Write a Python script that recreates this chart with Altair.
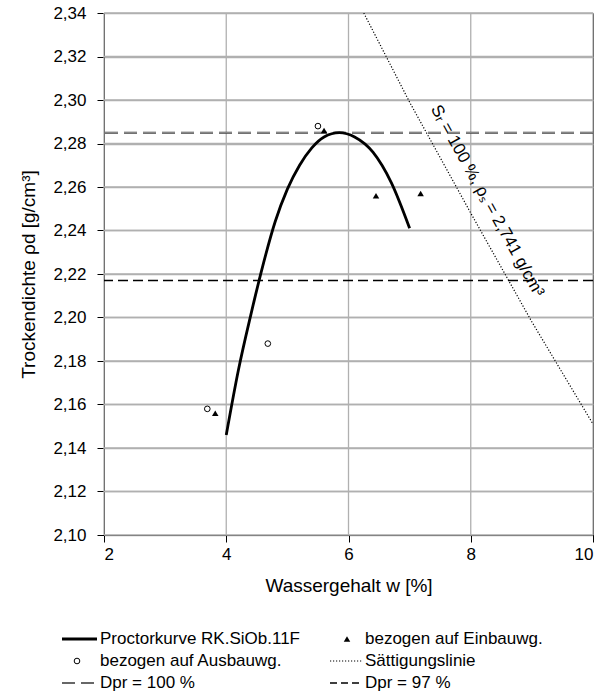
import altair as alt
import pandas as pd

# ---------------- data ----------------
proctor_w = [4.0, 4.2, 4.4, 4.6, 4.8, 5.0, 5.2, 5.4, 5.6, 5.85, 6.1, 6.4, 6.7, 7.0]
proctor_rho = [2.146, 2.176, 2.201, 2.224, 2.244, 2.259, 2.270, 2.278, 2.283, 2.285,
               2.283, 2.276, 2.262, 2.241]

ausbau_w = [3.69, 4.68, 5.50]
ausbau_rho = [2.158, 2.188, 2.288]

einbau_w = [3.82, 5.60, 6.45, 7.18]
einbau_rho = [2.156, 2.286, 2.256, 2.257]

saett_w = [6.25, 7.0, 8.0, 9.0, 10.0]
saett_rho = [2.340, 2.299, 2.248, 2.198, 2.151]

dpr100 = [2.285]
dpr97 = [2.217]

x_ticks = [2, 4, 6, 8, 10]
y_ticks = [2.10, 2.12, 2.14, 2.16, 2.18, 2.20, 2.22, 2.24, 2.26, 2.28, 2.30, 2.32, 2.34]

sat_label = ["Sᵣ = 100 %, ρₛ = 2,741 g/cm³"]
sat_label_w = [8.27]
sat_label_rho = [2.2536]

legend_labels = ["Proctorkurve RK.SiOb.11F", "bezogen auf Einbauwg.",
                 "bezogen auf Ausbauwg.", "Sättigungslinie",
                 "Dpr = 100 %", "Dpr = 97 %"]
legend_kind = ["proctor", "einbau", "ausbau", "saett", "dpr100", "dpr97"]
legend_col = [0, 1, 0, 1, 0, 1]
legend_row = [0, 0, 1, 1, 2, 2]

FONT = "Liberation Sans"
W, H = 489, 522

# ---------------- tables ----------------
proctor_df = pd.DataFrame({"w": proctor_w, "rho": proctor_rho})
ausbau_df = pd.DataFrame({"w": ausbau_w, "rho": ausbau_rho})
einbau_df = pd.DataFrame({"w": einbau_w, "rho": einbau_rho})
saett_df = pd.DataFrame({"w": saett_w, "rho": saett_rho})
d100_df = pd.DataFrame({"rho": dpr100})
d97_df = pd.DataFrame({"rho": dpr97})
lab_df = pd.DataFrame({"w": sat_label_w, "rho": sat_label_rho, "t": sat_label})
leg_df = pd.DataFrame({"label": legend_labels, "kind": legend_kind,
                       "col": legend_col, "row": legend_row})
xgrid_df = pd.DataFrame({"w": x_ticks})
ygrid_df = pd.DataFrame({"g": y_ticks})

xscale = alt.Scale(domain=[2, 10], nice=False)
yscale = alt.Scale(domain=[2.10, 2.34], nice=False)

xaxis = alt.Axis(values=x_ticks, title="Wassergehalt w [%]", tickSize=7, grid=False,
                 labelPadding=4, titlePadding=14, format="d")
yaxis = alt.Axis(values=y_ticks, title="Trockendichte ρd [g/cm³]", tickSize=7, grid=True,
                 gridColor="#b0b0b0", gridWidth=1.3, gridOpacity=1,
                 labelPadding=11, titlePadding=14,
                 labelExpr="replace(format(datum.value, '.2f'), '.', ',')")


def X(field="w"):
    return alt.X(f"{field}:Q", scale=xscale, axis=xaxis)


def Y(field="rho"):
    return alt.Y(f"{field}:Q", scale=yscale, axis=yaxis)


GRID = dict(color="#b0b0b0", strokeWidth=1.3)
D100_DARK = dict(color="#3c3c3c", strokeWidth=2.0, strokeDash=[13, 6])
D100_LIGHT = dict(color="#cfcfcf", strokeWidth=0.6, strokeDash=[13, 6])

xgrid = alt.Chart(xgrid_df).mark_rule(**GRID).encode(x=X())
ygrid = alt.Chart(ygrid_df).mark_rule(**GRID).encode(
    y=Y("g"), x=alt.value(0), x2=alt.value(W))
d100_dark = alt.Chart(d100_df).mark_rule(**D100_DARK).encode(y=Y())
d100_light = alt.Chart(d100_df).mark_rule(**D100_LIGHT).encode(y=Y())
d97 = alt.Chart(d97_df).mark_rule(color="black", strokeWidth=1.5,
                                  strokeDash=[10, 5]).encode(y=Y())
saett = alt.Chart(saett_df).mark_line(color="black", strokeWidth=1.2,
                                      strokeDash=[1.2, 1.8], clip=True).encode(x=X(), y=Y())
proctor = alt.Chart(proctor_df).mark_line(color="black", strokeWidth=2.8,
                                          interpolate="monotone").encode(x=X(), y=Y())
ausbau = alt.Chart(ausbau_df).mark_point(shape="circle", filled=False, color="black",
                                         strokeWidth=1, size=32, opacity=1).encode(x=X(), y=Y())
einbau = alt.Chart(einbau_df).mark_point(shape="triangle-up", filled=True, color="black",
                                         size=42, opacity=1).encode(x=X(), y=Y())
label = alt.Chart(lab_df).mark_text(angle=61, font=FONT, fontSize=17, color="black",
                                    align="center", baseline="middle").encode(
    x=X(), y=Y(), text="t:N")

main = alt.layer(ygrid, xgrid, d100_dark, d100_light, d97, saett, proctor, ausbau, einbau,
                 label).properties(
    width=W, height=H, view=alt.ViewBackground(stroke="black", strokeWidth=1))

# ---------------- legend panel ----------------
LH = 66
lx = alt.Scale(domain=[0, W], nice=False, zero=False)
ly = alt.Scale(domain=[-0.5, 2.5], nice=False, zero=False, reverse=True)

leg = alt.Chart(leg_df).transform_calculate(
    tx="datum.col == 0 ? -4 : 261",
    x0="datum.col == 0 ? -42 : 226",
    x1="datum.col == 0 ? -7 : 258",
    xc="datum.col == 0 ? -27 : 243",
)


def leg_rule(kind, **kw):
    return leg.transform_filter(f"datum.kind == '{kind}'").mark_rule(**kw).encode(
        x=alt.X("x0:Q", scale=lx, axis=None),
        x2="x1:Q",
        y=alt.Y("row:Q", scale=ly, axis=None))


leg_text = leg.mark_text(align="left", baseline="middle", font=FONT, fontSize=17,
                         color="black").encode(
    x=alt.X("tx:Q", scale=lx, axis=None),
    y=alt.Y("row:Q", scale=ly, axis=None),
    text="label:N")
leg_circle = leg.transform_filter("datum.kind == 'ausbau'").mark_point(
    shape="circle", filled=False, color="black", strokeWidth=1, size=32, opacity=1).encode(
    x=alt.X("xc:Q", scale=lx, axis=None), y=alt.Y("row:Q", scale=ly, axis=None))
leg_tri = leg.transform_filter("datum.kind == 'einbau'").mark_point(
    shape="triangle-up", filled=True, color="black", size=42, opacity=1).encode(
    x=alt.X("xc:Q", scale=lx, axis=None), y=alt.Y("row:Q", scale=ly, axis=None))

legend = alt.layer(
    leg_rule("proctor", color="black", strokeWidth=2.8),
    leg_rule("saett", color="black", strokeWidth=1.2, strokeDash=[1.2, 1.8]),
    leg_rule("dpr100", **D100_DARK),
    leg_rule("dpr100", **D100_LIGHT),
    leg_rule("dpr97", color="black", strokeWidth=1.5, strokeDash=[7, 4]),
    leg_circle, leg_tri, leg_text,
).properties(width=W, height=LH, view=alt.ViewBackground(stroke="transparent"))

chart = alt.vconcat(main, legend, spacing=93, bounds="flush").properties(
    padding={"left": 19, "top": 3, "right": 5, "bottom": 5}
).configure(background="white").configure_view(stroke="transparent").configure_axis(
    domainColor="black", tickColor="black",
    labelColor="black", titleColor="black", labelFont=FONT, titleFont=FONT,
    labelFontSize=17, titleFontSize=19, titleFontWeight="normal", domainWidth=1,
)

chart.save("out.html", embed_options={"renderer": "svg", "actions": False})
